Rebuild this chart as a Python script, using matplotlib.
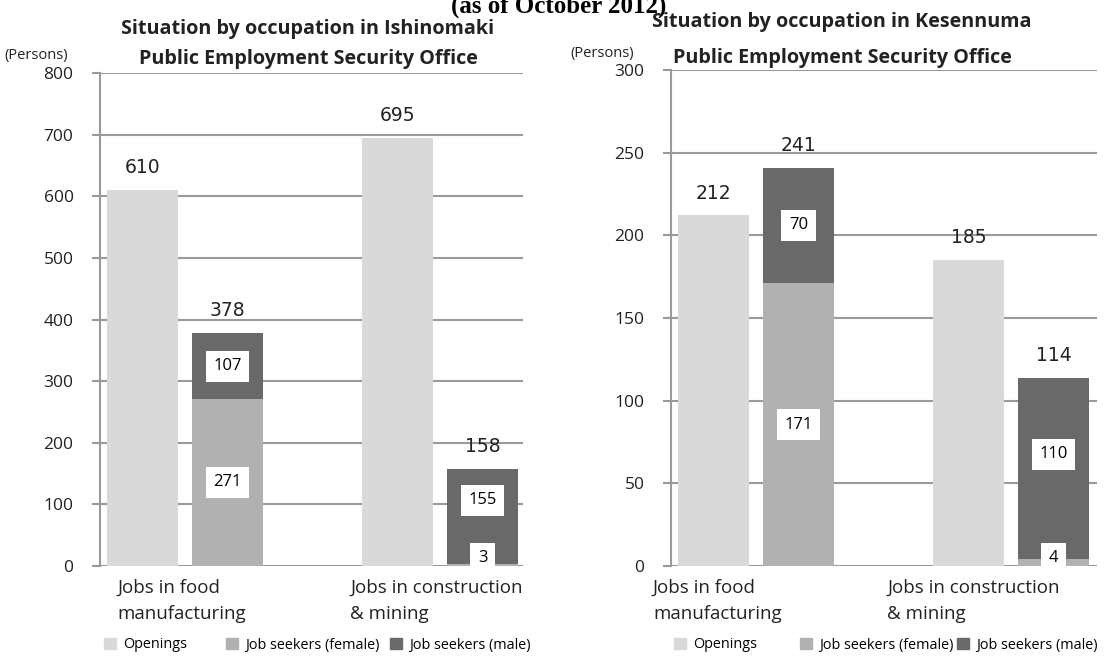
import matplotlib.pyplot as plt
import numpy as np
from matplotlib.patches import Patch

# dados
categorias = ["Jobs in food\nmanufacturing", "Jobs in construction\n& mining"]
series = ["Openings", "Job seekers (female)", "Job seekers (male)"]

ishinomaki_openings = [610, 695]
ishinomaki_female = [271, 3]
ishinomaki_male = [107, 155]

kesennuma_openings = [212, 185]
kesennuma_female = [171, 4]
kesennuma_male = [70, 110]

titulo_geral = "(as of October 2012)"
titulo_ishi = "Situation by occupation in Ishinomaki\nPublic Employment Security Office"
titulo_kese = "Situation by occupation in Kesennuma\nPublic Employment Security Office"

cor_open = "#d9d9d9"
cor_fem = "#b1b1b1"
cor_mas = "#696969"
cor_grade = "#9a9a9a"
fonte = "Open Sans"

W, H = 1117, 660
fig = plt.figure(figsize=(W / 100, H / 100), dpi=100)


def px_axes(x0, x1, y0, y1):
    ax = fig.add_axes([x0 / W, 1 - y1 / H, (x1 - x0) / W, (y1 - y0) / H])
    # grupos a 255 px de distancia, primeiro grupo a 85 px do eixo
    ax.set_xlim(-85 / 255, (x1 - x0 - 85) / 255)
    return ax


def desenha(ax, openings, female, male, ymax, passo, lab_dx):
    x = np.arange(len(categorias))
    larg = 0.275
    off = 1 / 6
    ax.set_axisbelow(True)
    ax.bar(x - off, openings, larg, color=cor_open, zorder=2)
    ax.bar(x + off, female, larg, color=cor_fem, zorder=2)
    ax.bar(x + off, male, larg, bottom=female, color=cor_mas, zorder=2)

    ax.set_ylim(0, ymax)
    ax.set_yticks(np.arange(0, ymax + 1, passo))
    ax.yaxis.grid(True, color=cor_grade, lw=1.5)
    ax.set_xticks([])
    for s in ["top", "right", "bottom"]:
        ax.spines[s].set_visible(False)
    ax.spines["left"].set_color(cor_grade)
    ax.spines["left"].set_linewidth(1.5)
    ax.tick_params(axis="y", length=6, width=1.5, color=cor_grade, pad=13,
                   labelsize=12.5, labelcolor="#222222")
    for t in ax.get_yticklabels():
        t.set_fontfamily(fonte)

    caixa = dict(boxstyle="square,pad=0.45", fc="white", ec="none")
    pequeno = ymax * 0.05
    for i in range(len(x)):
        ax.annotate(str(openings[i]), (x[i] - off, openings[i]),
                    xytext=(0, 16), textcoords="offset points",
                    ha="center", va="center", fontsize=13.5, family="DejaVu Sans",
                    color="#222222")
        tot = female[i] + male[i]
        ax.annotate(str(tot), (x[i] + off, tot),
                    xytext=(0, 16), textcoords="offset points",
                    ha="center", va="center", fontsize=13.5, family="DejaVu Sans",
                    color="#222222")
        if female[i] < pequeno:
            ax.text(x[i] + off, 0, str(female[i]), ha="center", va="bottom",
                    fontsize=12, family=fonte, bbox=caixa, zorder=4)
            base = ymax * 0.07
            ax.text(x[i] + off, (base + tot) / 2, str(male[i]), ha="center",
                    va="center", fontsize=12, family=fonte, bbox=caixa, zorder=4)
        else:
            ax.text(x[i] + off, female[i] / 2, str(female[i]), ha="center",
                    va="center", fontsize=12, family=fonte, bbox=caixa, zorder=4)
            ax.text(x[i] + off, female[i] + male[i] / 2, str(male[i]),
                    ha="center", va="center", fontsize=12, family=fonte,
                    bbox=caixa, zorder=4)
        ax.text(x[i] + lab_dx[i], -0.026, categorias[i],
                transform=ax.get_xaxis_transform(), ha="left", va="top",
                fontsize=13.5, family=fonte, color="#222222", linespacing=1.55)


ax1 = px_axes(100, 523, 73, 566)
desenha(ax1, ishinomaki_openings, ishinomaki_female, ishinomaki_male,
        800, 100, [-0.265, -0.351])
ax2 = px_axes(671, 1097, 70, 566)
desenha(ax2, kesennuma_openings, kesennuma_female, kesennuma_male,
        300, 50, [-0.404, -0.486])

# titulos
fig.text(0.5, 1 - 13 / H, titulo_geral, ha="center", va="baseline",
         fontsize=18, fontweight="bold", family="Liberation Serif")
fig.text(308 / W, 1 - 44 / H, titulo_ishi, ha="center", va="center",
         fontsize=14.2, fontweight="bold", family=fonte, color="#222222",
         linespacing=1.66)
fig.text(842 / W, 1 - 40 / H, titulo_kese, ha="center", va="center",
         fontsize=14.2, fontweight="bold", family=fonte, color="#222222",
         linespacing=2.05)
fig.text(4 / W, 1 - 56 / H, "(Persons)", ha="left", va="center",
         fontsize=10.5, family=fonte, color="#222222")
fig.text(570 / W, 1 - 53 / H, "(Persons)", ha="left", va="center",
         fontsize=10.5, family=fonte, color="#222222")

# legendas, cada item posto a mao
cores = [cor_open, cor_fem, cor_mas]
pos_leg = [[104, 226, 390], [674, 800, 957]]
for xs in pos_leg:
    for k in range(len(series)):
        fig.legend([Patch(color=cores[k])], [series[k]], loc="center left",
                   bbox_to_anchor=(xs[k] / W, 1 - 645 / H), frameon=False,
                   prop={"family": fonte, "size": 10.4},
                   handlelength=0.8, handleheight=0.8, handletextpad=0.5,
                   borderpad=0, borderaxespad=0)

plt.savefig("out.png", dpi=100)
